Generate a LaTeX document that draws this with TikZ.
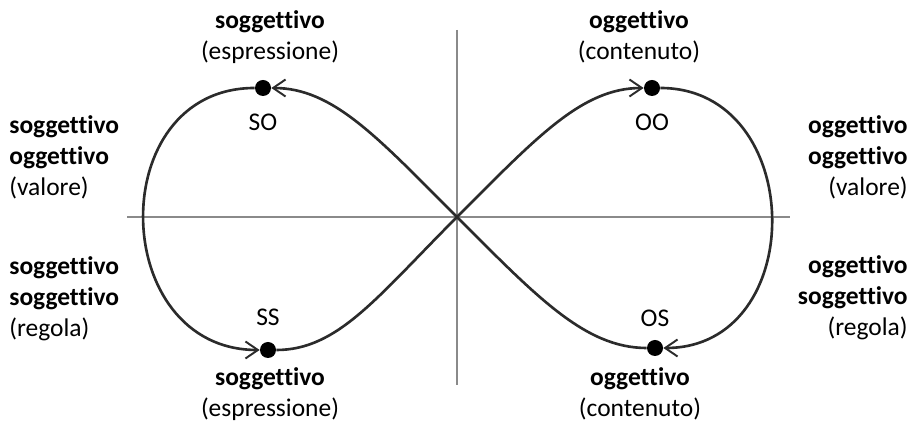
\documentclass[tikz,border=0pt]{standalone}
\usepackage{fontspec}
\setmainfont[Ligatures=NoCommon]{Carlito}
\usepackage{xcolor}
\definecolor{curvegray}{HTML}{2B2B2B}
\definecolor{axisgray}{HTML}{8A8A8A}
\usepackage{tikz}
\usetikzlibrary{arrows.meta, positioning}
\tikzset{
  axisline/.style ={draw=axisgray, line width=0.6pt},
  loopline/.style ={draw=curvegray, line width=1.5pt},
  looparr/.style  ={loopline, -{Straight Barb[length=2.5mm, width=3.4mm, line width=1.1pt]}},
  pdot/.style     ={circle, fill=black, inner sep=0pt, minimum size=3.2mm},
  plbl/.style     ={font=\fontsize{14.5}{17.6}\selectfont, inner sep=0pt},
  qlbl/.style     ={font=\fontsize{14.5}{17.6}\selectfont, inner sep=0pt, align=center},
  sidelblL/.style ={font=\fontsize{14.5}{17.6}\selectfont, inner sep=0pt, align=left, anchor=west},
  sidelblR/.style ={font=\fontsize{14.5}{17.6}\selectfont, inner sep=0pt, align=right, anchor=east},
}

\begin{document}
\begin{tikzpicture}[x=0.2mm, y=-0.2mm]
  \useasboundingbox (0,0) rectangle (913,424);
  % axes
  \coordinate (c) at (457,217);
  \coordinate (xl) at (127,217); \coordinate (xr) at (790,217);
  \coordinate (yt) at (457,30);  \coordinate (yb) at (457,385);
  \draw[axisline] (xl) -- (xr);
  \draw[axisline] (yt) -- (yb);
  % points on the loop
  \node[pdot] (so) at (263,88) {};
  \node[pdot] (oo) at (652,88) {};
  \node[pdot] (ss) at (268,350) {};
  \node[pdot] (os) at (655,348) {};
  % the loop
  \draw[looparr] (c) .. controls (537,137) and (582,88) .. (oo);
  \draw[looparr] (oo) .. controls (807,88) and (810,348) .. (os);
  \draw[loopline] (os) .. controls (585,348) and (537,297) .. (c);
  \draw[looparr] (c) .. controls (377,137) and (333,88) .. (so);
  \draw[looparr] (so) .. controls (103,88) and (108,350) .. (ss);
  \draw[loopline] (ss) .. controls (338,350) and (377,297) .. (c);
  % point labels
  \node[plbl, below=3.4mm of so] (solbl) {SO};
  \node[plbl, below=3.4mm of oo] (oolbl) {OO};
  \node[plbl, above=3.2mm of ss] (sslbl) {SS};
  \node[plbl, above=2.6mm of os] (oslbl) {OS};
  % top and bottom labels
  \node[qlbl] (sotxt) at (270,37) {\textbf{soggettivo}\\(espressione)};
  \node[qlbl] (ootxt) at (639,37) {\textbf{oggettivo}\\(contenuto)};
  \node[qlbl] (sstxt) at (270,394) {\textbf{soggettivo}\\(espressione)};
  \node[qlbl] (ostxt) at (640,394) {\textbf{oggettivo}\\(contenuto)};
  % side labels
  \node[sidelblL] (lval) at (9,157) {\textbf{soggettivo}\\\textbf{oggettivo}\\(valore)};
  \node[sidelblL] (lreg) at (9,299) {\textbf{soggettivo}\\\textbf{soggettivo}\\(regola)};
  \node[sidelblR] (rval) at (908,157) {\textbf{oggettivo}\\\textbf{oggettivo}\\(valore)};
  \node[sidelblR] (rreg) at (908,298) {\textbf{oggettivo}\\\textbf{soggettivo}\\(regola)};
\end{tikzpicture}
\end{document}
